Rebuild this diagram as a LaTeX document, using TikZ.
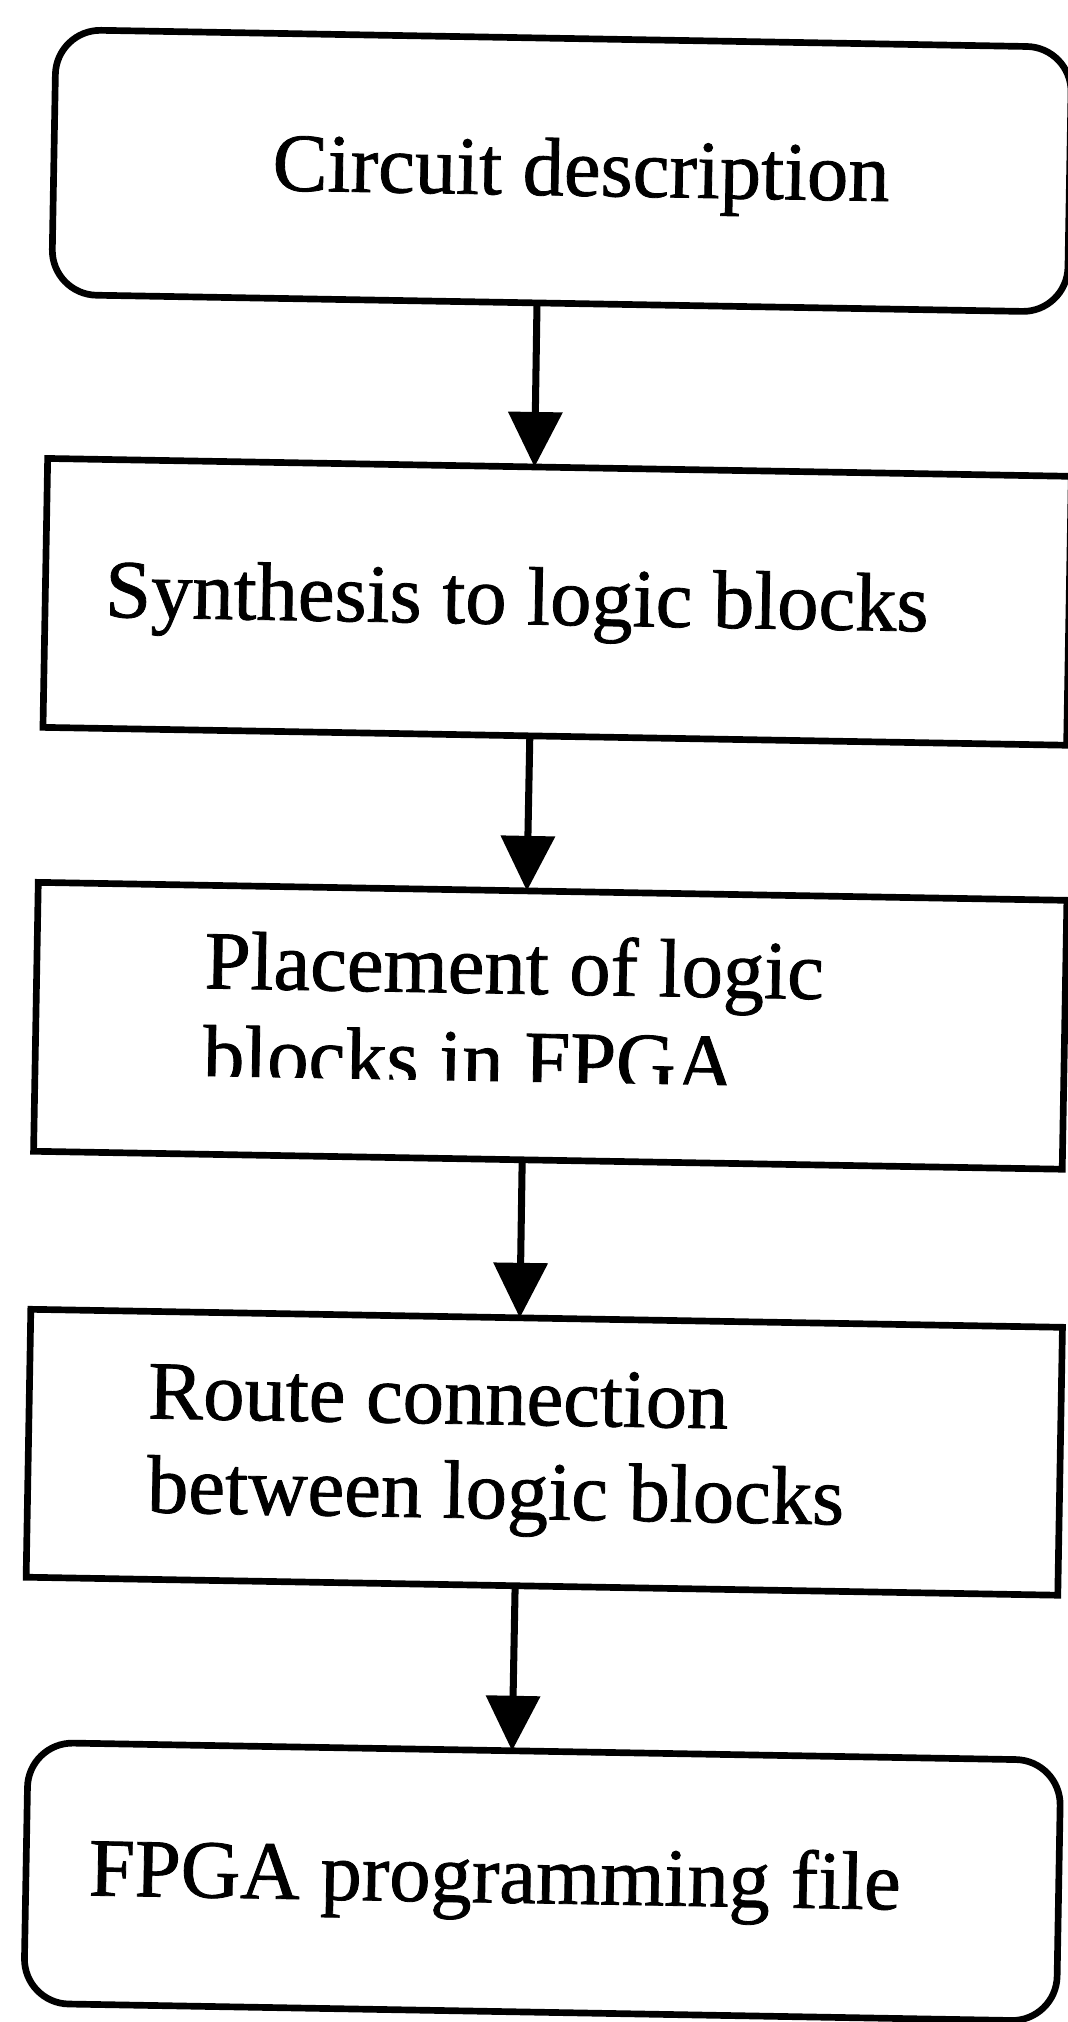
\documentclass[tikz,border=0pt]{standalone}
\usepackage{fontspec}
\setmainfont{Liberation Serif}
\newfontfamily\heavyserif[FakeBold=1]{Liberation Serif}
\usetikzlibrary{arrows.meta,calc}
\begin{document}
\begin{tikzpicture}[x=0.02cm,y=-0.02cm,
  boxsq/.style={draw=black,line width=3.8pt,rectangle,inner sep=0pt,outer sep=0pt,transform shape},
  boxrd/.style={boxsq,rounded corners=0.9cm},
  lbl/.style={anchor=base west,inner sep=0pt,outer sep=0pt,font=\heavyserif\fontsize{47}{53}\selectfont,transform shape},
  arr/.style={draw=black,line width=4pt,-{Triangle[length=1.1cm,width=1.06cm]}}]
\useasboundingbox (0,0) rectangle (1068,2022);
\clip (0,0) rectangle (1068,2022);
\begin{scope}[rotate around={-1:(534,1011)}]
  % boxes
  \node[boxrd, minimum width=20.32cm, minimum height=5.30cm] (b1) at (547,170.5) {};
  \node[boxsq, minimum width=20.48cm, minimum height=5.38cm] (b2) at (550,601.5) {};
  \node[boxsq, minimum width=20.58cm, minimum height=5.38cm] (b3) at (550.5,1025.5) {};
  \node[boxsq, minimum width=20.64cm, minimum height=5.36cm] (b4) at (552,1452) {};
  \node[boxrd, minimum width=20.66cm, minimum height=5.22cm] (b5) at (557.5,1881.5) {};
  % texts
  \node[lbl] (t1) at (258,195) {Circuit description};
  \node[lbl] (t2) at (98,624.5) {Synthesis to logic blocks};
  \node[lbl] (t3a) at (204,994) {Placement of logic};
  \begin{scope}
    \clip (0,1000) rectangle (1068,1082);
    \node[lbl] (t3b) at (204,1088) {blocks in FPGA};
  \end{scope}
  \node[lbl] (t4a) at (155,1425) {Route connection};
  \node[lbl] (t4b) at (155.5,1519) {between logic blocks};
  \node[lbl] (t5) at (104,1903) {FPGA programming file};
\end{scope}
% connectors
\draw[arr] ($(b1.south west)!0.478!(b1.south east)$) -- ($(b2.north west)!0.4756!(b2.north east)$);
\draw[arr] ($(b2.south west)!0.4756!(b2.south east)$) -- ($(b3.north west)!0.475!(b3.north east)$);
\draw[arr] ($(b3.south west)!0.475!(b3.south east)$) -- ($(b4.north west)!0.474!(b4.north east)$);
\draw[arr] ($(b4.south west)!0.474!(b4.south east)$) -- ($(b5.north west)!0.4685!(b5.north east)$);
\end{tikzpicture}
\end{document}
